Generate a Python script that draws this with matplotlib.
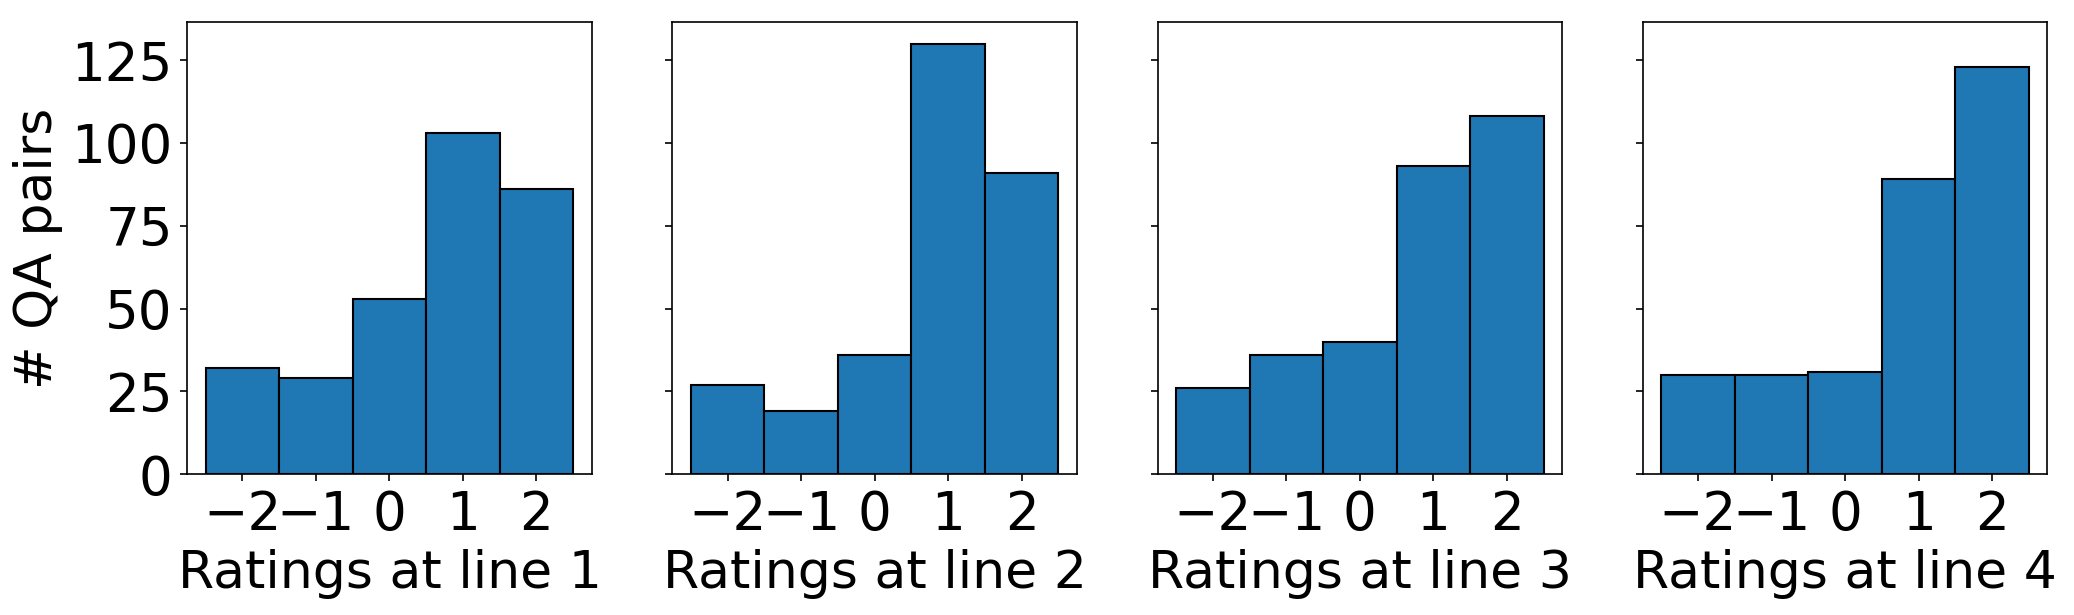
import matplotlib
matplotlib.use("Agg")
import matplotlib.pyplot as plt

# Ratings -2..2 and number of QA pairs per rating, one list per line
ratings = [-2, -1, 0, 1, 2]
counts_line1 = [32, 29, 53, 103, 86]
counts_line2 = [27, 19, 36, 130, 91]
counts_line3 = [26, 36, 40, 93, 108]
counts_line4 = [30, 30, 31, 89, 123]
panel_counts = [counts_line1, counts_line2, counts_line3, counts_line4]
panel_labels = ["Ratings at line 1", "Ratings at line 2",
                "Ratings at line 3", "Ratings at line 4"]

plt.rcParams["font.size"] = 25

fig, axes = plt.subplots(1, 4, sharey=True, figsize=(2074 / 150, 615 / 150), dpi=150)
fig.subplots_adjust(left=0.0903, right=0.9871, bottom=0.2288, top=0.9642, wspace=0.2)

for ax, counts, label in zip(axes, panel_counts, panel_labels):
    ax.bar(ratings, counts, width=1.0, color="#1f77b4", edgecolor="black", linewidth=1.0)
    ax.set_xticks(ratings)
    ax.set_xlabel(label)
    ax.tick_params(labelsize=25.5)

axes[0].set_yticks([0, 25, 50, 75, 100, 125])
axes[0].set_ylabel("# QA pairs")

fig.savefig("out.png", dpi=150)
